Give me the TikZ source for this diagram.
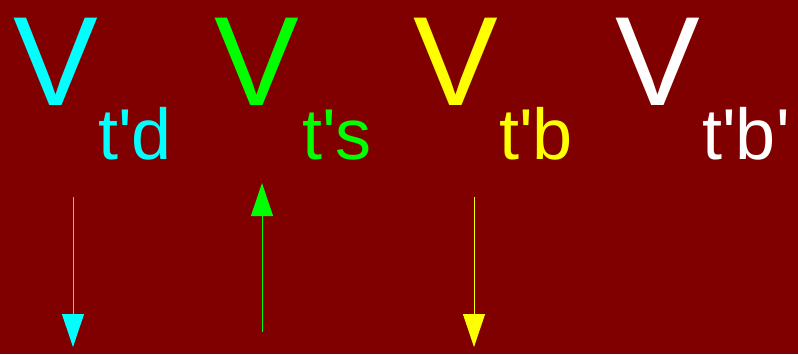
\documentclass[tikz,border=0pt]{standalone}
\usepackage{fontspec}
\setmainfont{Liberation Sans}
\usetikzlibrary{arrows.meta}
\definecolor{VBack}{HTML}{800000}
\definecolor{VCyan}{HTML}{00FFFF}
\definecolor{VGreen}{HTML}{00FF00}
\definecolor{VYellow}{HTML}{FFFF00}
\newcommand{\ap}{\textquotesingle}
\tikzset{
  bigv/.style={anchor=base west, inner sep=0pt, font=\fontsize{127}{127}\selectfont},
  subv/.style={anchor=base west, inner sep=0pt, font=\fontsize{72}{72}\selectfont},
  varrow/.style={line width=1pt, -{Triangle[width=22pt,length=33pt]}}
}
\begin{document}
\begin{tikzpicture}[x=1pt, y=-1pt]
  \fill[VBack] (0,0) rectangle (798,354);
  \useasboundingbox (0,0) rectangle (798,354);
  % potentials
  \node[bigv, VCyan] (vd) at (13,105) {V};
  \node[subv, VCyan] (vdsub) at (98,159) {t\ap d};
  \node[bigv, VGreen] (vs) at (214,105) {V};
  \node[subv, VGreen] (vssub) at (302,159) {t\ap s};
  \node[bigv, VYellow] (vb) at (413,105) {V};
  \node[subv, VYellow] (vbsub) at (499,159) {t\ap b};
  \node[bigv, white] (vbp) at (615,105) {V};
  \node[subv, white] (vbpsub) at (702,159) {t\ap b\ap};
  % arrows
  \coordinate (dtop) at (73,197);
  \coordinate (dbot) at (73,347);
  \coordinate (stop) at (262,183);
  \coordinate (sbot) at (262,332);
  \coordinate (btop) at (474,197);
  \coordinate (bbot) at (474,347);
  \draw[varrow, VCyan] (dtop) -- (dbot);
  \draw[varrow, VGreen] (sbot) -- (stop);
  \draw[varrow, VYellow] (btop) -- (bbot);
\end{tikzpicture}
\end{document}
